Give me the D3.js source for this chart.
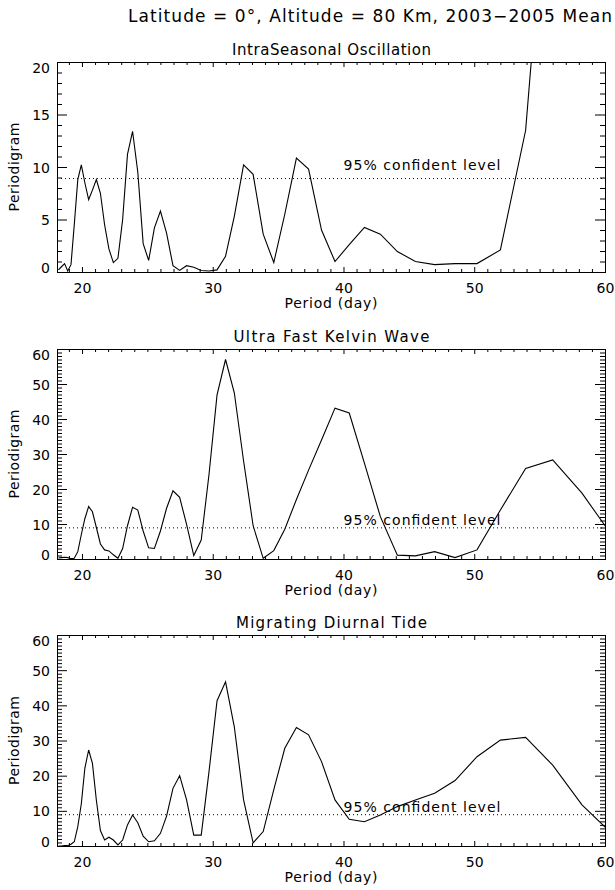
<!DOCTYPE html>
<html><head><meta charset="utf-8">
<script src="https://cdn.jsdelivr.net/npm/d3@7"></script>
<style>
body{margin:0;background:#fff;}
text{font-family:"DejaVu Sans",sans-serif;fill:#000;}
</style>
</head><body>
<svg id="chart" width="615" height="890"></svg>
<script>
// ---- data ----
const periods = [18.20,18.43,18.67,18.91,19.16,19.41,19.68,19.95,20.22,20.51,20.80,21.10,21.41,21.73,22.06,22.40,22.75,23.11,23.48,23.87,24.27,24.68,25.10,25.54,26.00,26.47,26.96,27.47,28.00,28.55,29.12,29.71,30.33,30.98,31.65,32.36,33.09,33.86,34.67,35.51,36.40,37.33,38.32,39.35,40.44,41.60,42.82,44.12,45.50,46.97,48.53,50.21,52.00,53.93,56.00,58.24,60.67];
const isoValues = [0.2,0.5,0.8,0.1,0.7,4.5,8.8,10.2,8.5,6.9,7.8,8.8,7.5,4.5,2.2,0.9,1.3,5.0,11.2,13.4,9.5,2.7,1.1,4.2,5.8,3.7,0.6,0.15,0.6,0.45,0.15,0.1,0.2,1.5,5.3,10.2,9.3,3.6,0.9,5.5,10.85,9.8,4.0,1.0,2.6,4.25,3.6,1.95,1.0,0.7,0.8,0.8,2.1,13.5,45,null,null];
const ufkwValues = [0.3,0.4,0.5,0.4,0.1,0.2,2.1,7.0,11.5,15.0,13.5,9.0,4.3,2.6,2.3,1.2,0.2,3.0,9.5,14.8,14.0,8.0,3.2,3.0,8.0,14.5,19.5,17.6,9.9,1.0,5.4,24.0,46.9,57.0,47.5,28.0,9.5,0.2,2.4,8.5,17.0,25.4,34.0,43.1,41.7,27.4,12.1,1.1,0.9,2.1,0.4,2.6,14.0,25.9,28.3,18.8,6.0];
const mdtValues = [0.0,0.0,0.1,0.1,0.5,1.2,5.5,12.0,22.1,27.3,23.5,13.0,4.4,1.7,2.5,1.7,0.3,1.7,6.0,8.8,6.6,2.8,1.2,1.5,3.6,8.5,16.4,20.0,13.1,3.1,3.1,21.0,41.3,46.7,33.9,13.1,0.9,4.1,16.0,27.8,33.7,31.6,24.0,13.1,7.6,6.9,8.8,11.2,13.1,15.0,18.6,25.4,30.1,30.9,23.0,11.7,3.0];
const panelTitles = ["IntraSeasonal Oscillation","Ultra Fast Kelvin Wave","Migrating Diurnal Tide"];
const mainTitle = "Latitude = 0\u00b0, Altitude = 80 Km, 2003\u22122005 Mean";
const xLabel = "Period (day)";
const yLabel = "Periodigram";
const confLabel = "95% confident level";
const confLevel = 8.9;
const xDomain = [18.09, 60];
const xTicks = [20,30,40,50,60];
const yTicksTop = [0,5,10,15,20];
const yTicksLower = [0,10,20,30,40,50,60];

// ---- layout ----
const svg = d3.select("#chart");
const left = 57, right = 605;
const x = d3.scaleLinear().domain(xDomain).range([left, right]);

const panels = [
  {values: isoValues, yMax: 20, ticks: yTicksTop, top: 62, bottom: 272, titleW: 199},
  {values: ufkwValues, yMax: 60, ticks: yTicksLower, top: 349, bottom: 559, titleW: 196},
  {values: mdtValues, yMax: 60, ticks: yTicksLower, top: 635, bottom: 846, titleW: 191}
];

svg.append("text").attr("x", 128).attr("y", 22)
  .attr("font-size", 17).attr("textLength", 484).attr("lengthAdjust", "spacing")
  .text(mainTitle);

panels.forEach((p, i) => {
  const y = d3.scaleLinear().domain([0, p.yMax]).range([p.bottom, p.top]);
  const g = svg.append("g");
  const clipId = "clip" + i;
  svg.append("clipPath").attr("id", clipId).append("rect")
    .attr("x", left).attr("y", p.top).attr("width", right - left).attr("height", p.bottom - p.top);

  // minor ticks
  const xMinor = d3.range(19, 60, 1).filter(v => v % 10 !== 0);
  const yMinor = d3.range(1, p.yMax, 1).filter(v => !p.ticks.includes(v));

  g.append("g").attr("transform", `translate(0,${p.bottom})`)
    .call(d3.axisBottom(x).tickValues(xMinor).tickSize(-3).tickFormat(""));
  g.append("g").attr("transform", `translate(0,${p.top})`)
    .call(d3.axisTop(x).tickValues(xMinor).tickSize(-3).tickFormat(""));
  g.append("g").attr("transform", `translate(${left},0)`)
    .call(d3.axisLeft(y).tickValues(yMinor).tickSize(-5).tickFormat(""));
  g.append("g").attr("transform", `translate(${right},0)`)
    .call(d3.axisRight(y).tickValues(yMinor).tickSize(-5).tickFormat(""));

  // major ticks
  const xb = g.append("g").attr("transform", `translate(0,${p.bottom})`)
    .call(d3.axisBottom(x).tickValues(xTicks).tickSize(-5).tickPadding(11).tickFormat(d3.format("d")));
  g.append("g").attr("transform", `translate(0,${p.top})`)
    .call(d3.axisTop(x).tickValues(xTicks).tickSize(-5).tickFormat(""));
  const yl = g.append("g").attr("transform", `translate(${left},0)`)
    .call(d3.axisLeft(y).tickValues(p.ticks).tickSize(-10).tickPadding(7).tickFormat(d3.format("d")));
  g.append("g").attr("transform", `translate(${right},0)`)
    .call(d3.axisRight(y).tickValues(p.ticks).tickSize(-10).tickFormat(""));

  g.selectAll(".domain").remove();
  g.selectAll(".tick line").attr("stroke", "#000");
  xb.selectAll("text").attr("font-size", 14).attr("font-family", "DejaVu Sans").attr("fill", "#000");
  yl.selectAll("text").attr("font-size", 14).attr("font-family", "DejaVu Sans").attr("fill", "#000")
    .attr("dy", d => d === p.yMax ? "0.73em" : (d === 0 ? "0em" : "0.36em"));

  // frame
  g.append("rect").attr("x", left + 0.5).attr("y", p.top + 0.5)
    .attr("width", right - left).attr("height", p.bottom - p.top)
    .attr("fill", "none").attr("stroke", "#000").attr("stroke-width", 1);

  // confidence level
  g.append("line").attr("x1", left).attr("x2", right)
    .attr("y1", y(confLevel)).attr("y2", y(confLevel))
    .attr("stroke", "#000").attr("stroke-width", 1).attr("stroke-dasharray", "1,3");
  g.append("text").attr("x", x(40)).attr("y", y(confLevel + 0.8))
    .attr("font-size", 14).attr("textLength", 157).attr("lengthAdjust", "spacing")
    .text(confLabel);

  // series
  const data = periods.map((d, k) => [d, p.values[k]]);
  const line = d3.line().defined(d => d[1] !== null).x(d => x(d[0])).y(d => y(d[1]));
  g.append("path").datum(data).attr("clip-path", `url(#${clipId})`)
    .attr("d", line).attr("fill", "none").attr("stroke", "#000").attr("stroke-width", 1.1);

  // titles / labels
  g.append("text").attr("x", (left + right) / 2 + 0.5).attr("y", p.top - 7)
    .attr("text-anchor", "middle").attr("font-size", 15)
    .attr("textLength", p.titleW).attr("lengthAdjust", "spacing")
    .text(panelTitles[i]);
  g.append("text").attr("x", (left + right) / 2).attr("y", p.bottom + 36)
    .attr("text-anchor", "middle").attr("font-size", 14)
    .attr("textLength", 93).attr("lengthAdjust", "spacing")
    .text(xLabel);
  g.append("text").attr("transform", `translate(19,${(p.top + p.bottom) / 2}) rotate(-90)`)
    .attr("text-anchor", "middle").attr("font-size", 14)
    .attr("textLength", 89).attr("lengthAdjust", "spacing")
    .text(yLabel);
});
</script>
</body></html>
